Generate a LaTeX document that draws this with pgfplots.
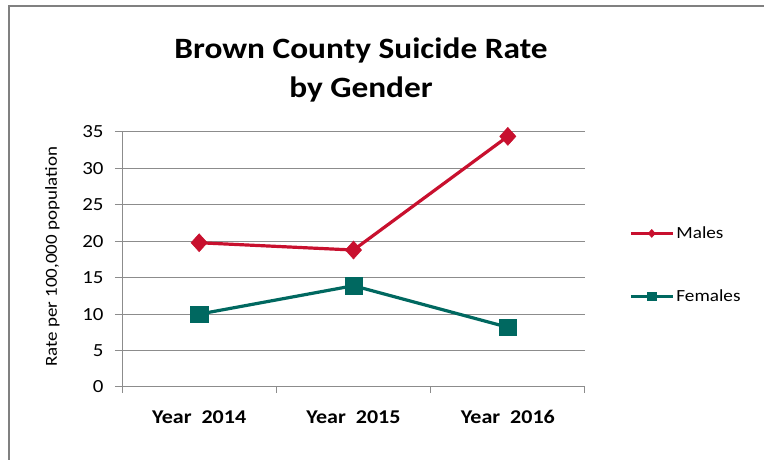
\documentclass[border=0pt]{standalone}
\usepackage{fontspec}
\setmainfont{Carlito}
\newfontfamily\sfont{Carlito}[FakeStretch=1.13]
\usepackage{pgfplots}
\pgfplotsset{compat=1.18}
\definecolor{mred}{RGB}{200,16,46}
\definecolor{fteal}{RGB}{0,104,96}
\definecolor{gridc}{RGB}{140,140,140}
\definecolor{framec}{RGB}{128,128,128}
\begin{document}
\begin{tikzpicture}
\useasboundingbox (0pt,0pt) rectangle (764pt,460pt);
\fill[white] (0pt,0pt) rectangle (764pt,460pt);
\draw[framec, line width=2pt] (8.5pt,0pt) -- (8.5pt,453.5pt) -- (764pt,453.5pt);
\node[anchor=base, font=\sfont\bfseries\fontsize{29.5}{30}\selectfont] at (361pt,401.7pt) {Brown County Suicide Rate};
\node[anchor=base, font=\sfont\bfseries\fontsize{29.5}{30}\selectfont] at (361pt,362.7pt) {by Gender};
\node[rotate=90, font=\sfont\fontsize{16.8}{17}\selectfont, anchor=center] at (52.5pt,203pt) {Rate per 100,000 population};
\begin{axis}[
  at={(122pt,73pt)}, anchor=south west, scale only axis,
  width=463pt, height=255pt,
  xmin=-0.5, xmax=2.5, ymin=0, ymax=35,
  axis lines=left, axis line style={-, gridc, line width=1pt},
  xtick={0,1,2}, xticklabels={Year\ \ 2014,Year\ \ 2015,Year\ \ 2016},
  minor xtick={-0.5,0.5,1.5,2.5},
  major x tick style={draw=none},
  minor x tick style={gridc, line width=1pt},
  minor tick length=6pt,
  ytick={0,5,...,35},
  ytick style={gridc, line width=1pt},
  major tick length=7pt,
  tick align=outside,
  ymajorgrids, grid style={gridc, line width=1pt},
  /pgf/number format/assume math mode=true,
  yticklabel style={font=\sfont\fontsize{18.5}{19}\selectfont, xshift=-8pt},
  xticklabel style={font=\sfont\bfseries\fontsize{19.5}{20}\selectfont, yshift=-13pt},
  legend style={at={(axis description cs:1.095,0.637)}, anchor=north west, draw=none, fill=none,
    font=\sfont\fontsize{17}{18}\selectfont, row sep=46pt, inner sep=0pt},
  legend cell align=left,
  legend image code/.code={\draw[mark repeat=2,mark phase=2,#1,mark size=4pt] plot coordinates {(0pt,0pt) (21pt,0pt) (42pt,0pt)};},
  clip=false,
]
\addplot[mred, line width=3.2pt, mark=diamond*, mark size=9pt, mark options={xscale=1.2, fill=mred, draw=mred, line width=0.5pt}]
  coordinates {(0,19.8) (1,18.8) (2,34.4)};
\addlegendentry{Males}
\addplot[fteal, line width=3.2pt, mark=square*, mark size=8.3pt, mark options={xscale=1.05, fill=fteal, draw=fteal, line width=0.5pt}]
  coordinates {(0,10.0) (1,13.9) (2,8.2)};
\addlegendentry{Females}
\end{axis}
\end{tikzpicture}
\end{document}
